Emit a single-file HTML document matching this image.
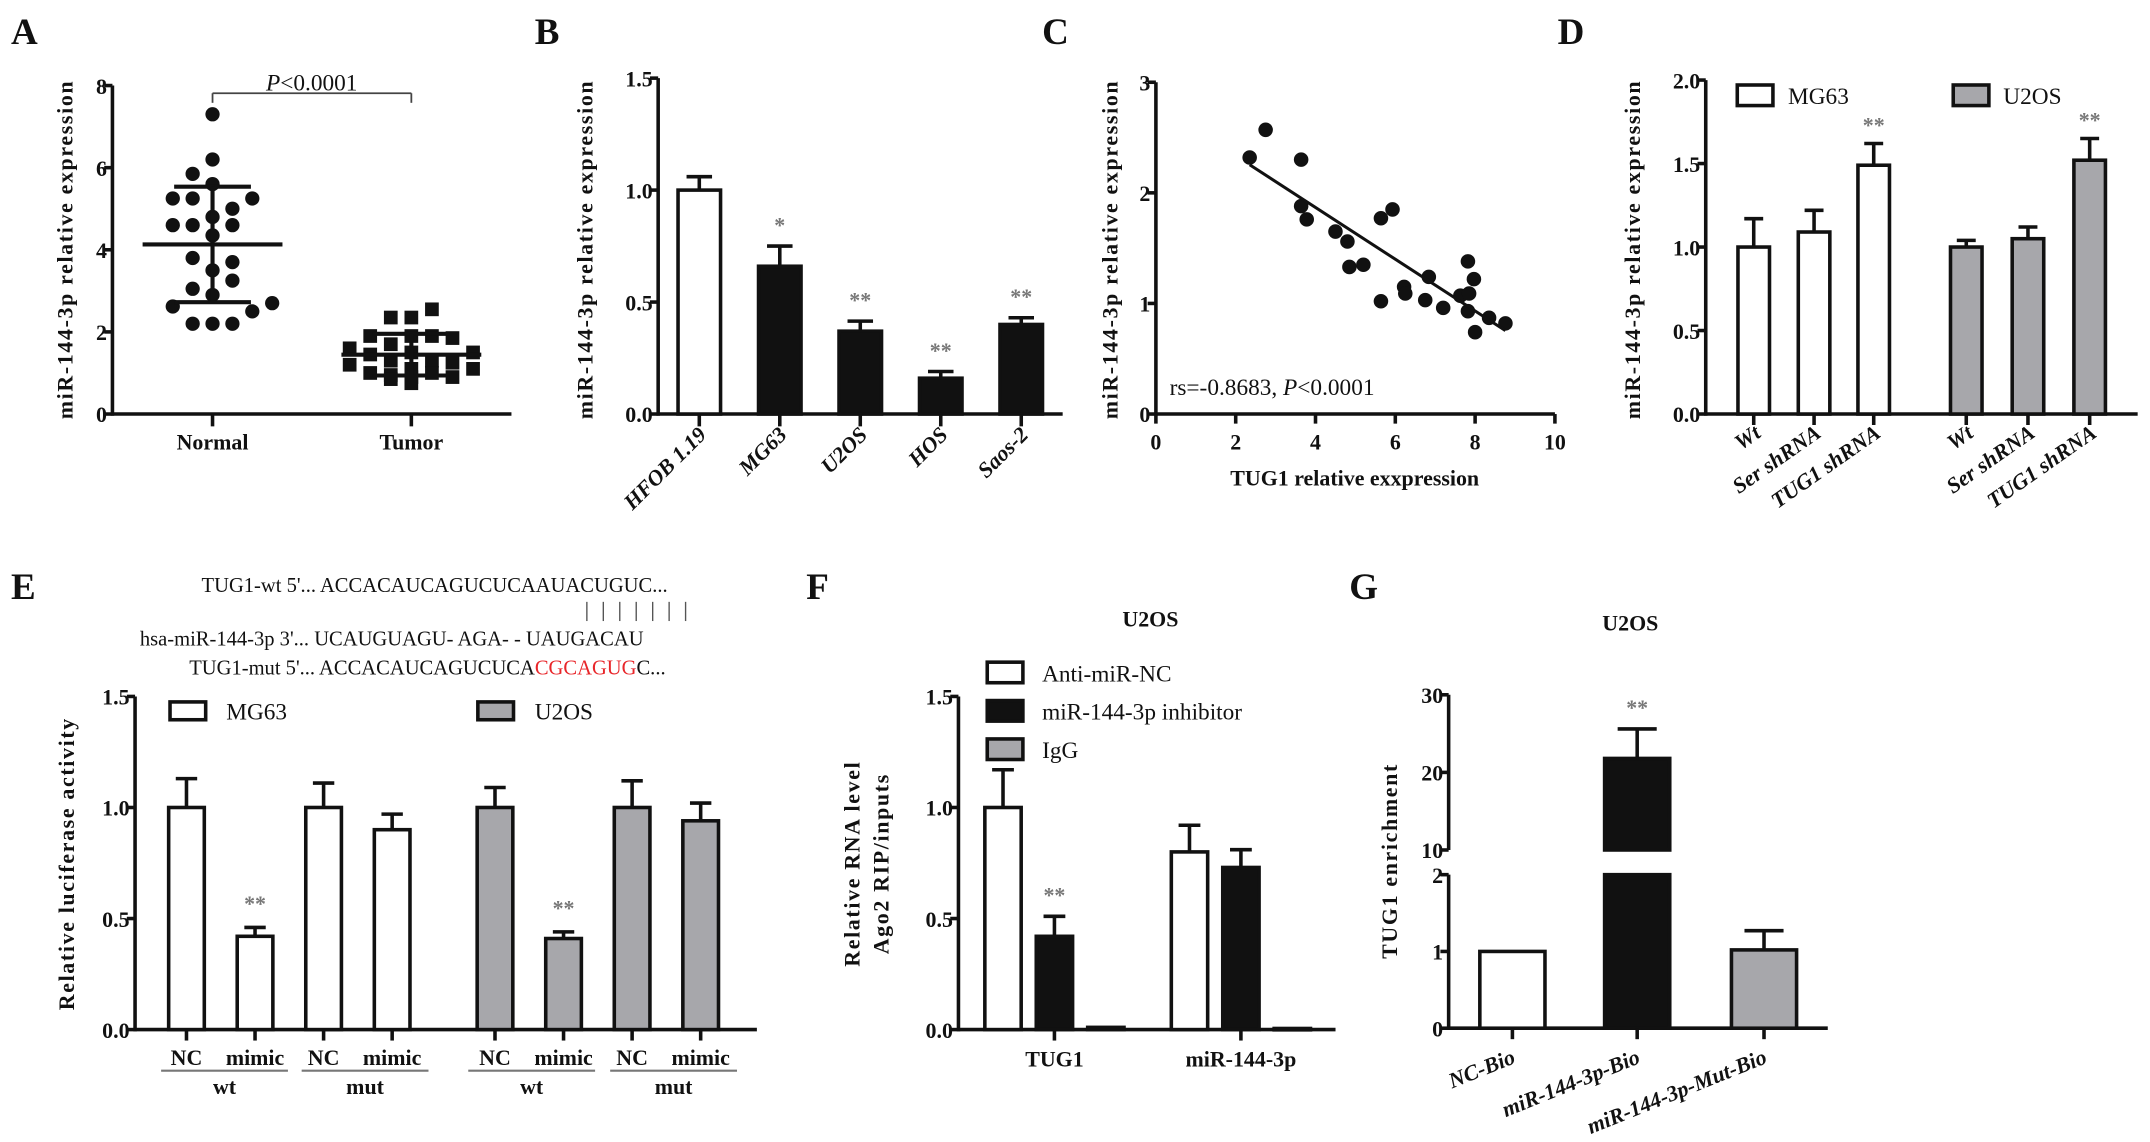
<!DOCTYPE html>
<html><head><meta charset="utf-8">
<style>
html,body{margin:0;padding:0;background:#fff;}
svg{display:block;}
text{font-family:"Liberation Serif",serif;fill:#111;}
.tk{font-size:16px;font-weight:bold;}
.ttl{font-size:16px;font-weight:bold;letter-spacing:1.2px;}
.pl{font-size:27px;font-weight:bold;}
.st{font-size:16px;font-weight:bold;fill:#777;}
.lg{font-size:17px;}
.seq{font-size:15px;}
</style></head>
<body>
<svg id="fig" width="2150" height="1142" viewBox="0 0 1568 833" preserveAspectRatio="none" xmlns="http://www.w3.org/2000/svg"></svg>
<script>
// ---------- data ----------
const aNormal=[7.3,6.2,5.85,5.6,5.25,5.25,5.25,5.0,4.8,4.6,4.6,4.6,4.35,3.8,3.7,3.5,3.25,3.05,2.9,2.62,2.7,2.5,2.2,2.2,2.2];
const aTumor=[2.55,2.35,2.35,1.9,1.9,1.9,1.85,1.7,1.6,1.5,1.5,1.45,1.3,1.3,1.25,1.2,1.1,1.1,1.0,1.0,0.95,0.9,0.9,0.85,0.75];
const aTicks=[0,2,4,6,8];
const bCats=['HFOB 1.19','MG63','U2OS','HOS','Saos-2'];
const bVals=[1.0,0.66,0.37,0.16,0.40];
const bErrs=[0.06,0.09,0.045,0.03,0.03];
const bStars=['','*','**','**','**'];
const bTicks=[0,0.5,1.0,1.5];
const cX=[2.35,2.75,3.64,3.64,3.78,4.5,4.8,4.85,5.2,5.64,5.93,5.64,6.22,6.25,6.75,6.84,7.2,7.63,7.82,7.85,7.97,7.82,8.0,8.35,8.76];
const cY=[2.32,2.57,2.3,1.88,1.76,1.65,1.56,1.33,1.35,1.77,1.85,1.02,1.15,1.09,1.03,1.24,0.96,1.07,1.38,1.09,1.22,0.93,0.74,0.87,0.82];
const cXTicks=[0,2,4,6,8,10];
const cYTicks=[0,1,2,3];
const dCats=['Wt','Ser shRNA','TUG1 shRNA','Wt','Ser shRNA','TUG1 shRNA'];
const dVals=[1.0,1.09,1.49,1.0,1.05,1.52];
const dErrs=[0.17,0.13,0.13,0.04,0.07,0.13];
const dStars=['','','**','','','**'];
const dTicks=[0,0.5,1.0,1.5,2.0];
const eCats=['NC','mimic','NC','mimic','NC','mimic','NC','mimic'];
const eVals=[1.0,0.42,1.0,0.9,1.0,0.41,1.0,0.94];
const eErrs=[0.13,0.04,0.11,0.07,0.09,0.03,0.12,0.08];
const eStars=['','**','','','','**','',''];
const eTicks=[0,0.5,1.0,1.5];
const fCats=['TUG1','miR-144-3p'];
const fVals=[[1.0,0.42,0.01],[0.8,0.73,0.005]];
const fErrs=[[0.17,0.09,0],[0.12,0.08,0]];
const fTicks=[0,0.5,1.0,1.5];
const gCats=['NC-Bio','miR-144-3p-Bio','miR-144-3p-Mut-Bio'];
const gVals=[1.0,21.8,1.02];
const gErrs=[0,3.8,0.25];
const gLowTicks=[0,1,2];
const gHighTicks=[10,20,30];

// ---------- helpers ----------
const NS='http://www.w3.org/2000/svg';
const svg=document.getElementById('fig');
function mk(tag,attrs,parent){const e=document.createElementNS(NS,tag);for(const k in attrs)e.setAttribute(k,attrs[k]);(parent||svg).appendChild(e);return e;}
function nm(e,n){return e;}
function txt(s,x,y,o,n){const e=mk('text',Object.assign({x:x,y:y},o||{}));e.textContent=s;nm(e,n);return e;}
function ln(x1,y1,x2,y2,n,sw,col){return nm(mk('line',{x1:x1,y1:y1,x2:x2,y2:y2,stroke:col||'#111','stroke-width':sw||2.6}),n);}
function lin(d0,d1,p0,p1){return v=>p0+(v-d0)*(p1-p0)/(d1-d0);}
function yAxis(x,ticks,sc,fmt,n){
  ln(x,sc(ticks[0])+1.3,x,sc(ticks[ticks.length-1]),n+'-y-axis');
  ticks.forEach(t=>{ln(x-6,sc(t),x,sc(t),n+'-y-tick');
    txt(fmt(t),x-4,sc(t)+6,{class:'tk','text-anchor':'end'},n+'-y-tick-label');});
}
function yTitle(s,x,y,n){txt(s,x,y,{class:'ttl','text-anchor':'middle',transform:'rotate(-90 '+x+' '+y+')'},n);}
function bar(cx,w,v,err,sc,fill,n){
  const y0=sc(0),y1=sc(v);
  if(err>0){ln(cx,y1,cx,sc(v+err),n+'-error-bar');ln(cx-w*0.3,sc(v+err),cx+w*0.3,sc(v+err),n+'-error-cap');}
  nm(mk('rect',{x:cx-w/2,y:y1,width:w,height:Math.max(y0-y1,1),fill:fill,stroke:'#111','stroke-width':2.6}),n);
}
const f1=t=>t.toFixed(1), f0=t=>String(t);

// ---------- panel letters ----------
[['A',8,32],['B',390,32],['C',760,32],['D',1136,32],['E',8,437],['F',588,437],['G',984,437]].forEach(p=>txt(p[0],p[1],p[2],{class:'pl'},'panel-label-'+p[0].toLowerCase()));

// ---------- A ----------
(function(){
  const sx=82, sc=lin(0,8,302,62.4);
  yAxis(sx,aTicks,sc,f0,'a');
  ln(sx,302,373,302,'a-x-axis');
  const xs=[155,300], labs=['Normal','Tumor'];
  xs.forEach((x,i)=>{ln(x,302,x,311,'a-x-tick');txt(labs[i],x,328,{class:'tk','text-anchor':'middle'},'a-x-label-'+labs[i].toLowerCase());});
  yTitle('miR-144-3p relative expression',53,182,'a-y-title');
  const nOff=[0,0,-1,0,-2,-1,2,1,0,-2,-1,1,0,-1,1,0,1,-1,0,-2,3,2,-1,0,1];
  aNormal.forEach((v,i)=>nm(mk('circle',{cx:xs[0]+nOff[i]*14.5,cy:sc(v),r:5.2,fill:'#111'}),'a-normal-point'));
  const tOff=[1,-1,0,-2,0,1,2,-1,-3,3,0,-2,-1,1,2,-3,0,3,-2,1,-1,0,2,-1,0];
  aTumor.forEach((v,i)=>nm(mk('rect',{x:xs[1]+tOff[i]*15-5,y:sc(v)-5,width:10,height:10,fill:'#111'}),'a-tumor-point'));
  [aNormal,aTumor].forEach((arr,k)=>{
    const m=arr.reduce((a,b)=>a+b,0)/arr.length;
    const sd=Math.sqrt(arr.reduce((a,b)=>a+(b-m)*(b-m),0)/(arr.length-1));
    const x=xs[k];
    ln(x-51,sc(m),x+51,sc(m),'a-mean-line',3);
    ln(x-28,sc(m+sd),x+28,sc(m+sd),'a-sd-line',3);
    ln(x-28,sc(m-sd),x+28,sc(m-sd),'a-sd-line',3);
    ln(x,sc(m+sd),x,sc(m-sd),'a-sd-whisker',3);
  });
  ln(155,68,300,68,'a-bracket',1.3,'#444');ln(155,68,155,75,'a-bracket',1.3,'#444');ln(300,68,300,75,'a-bracket',1.3,'#444');
  const p=txt('',194,66,{class:'lg','font-size':'16',fill:'#444'},'a-p-value');
  p.innerHTML='<tspan font-style="italic">P</tspan>&lt;0.0001';
})();

// ---------- B ----------
(function(){
  const sx=480, sc=lin(0,1.5,302,57);
  yAxis(sx,bTicks,sc,f1,'b');
  ln(sx,302,775,302,'b-x-axis');
  yTitle('miR-144-3p relative expression',432,182,'b-y-title');
  const c0=510, step=58.7;
  bCats.forEach((c,i)=>{
    const x=c0+i*step;
    bar(x,31,bVals[i],bErrs[i],sc,i===0?'#fff':'#111','b-bar-'+c.toLowerCase().replace(/[^a-z0-9]+/g,'-'));
    ln(x,302,x,311,'b-x-tick');
    if(bStars[i])txt(bStars[i],x,sc(bVals[i]+bErrs[i])-10,{class:'st','text-anchor':'middle'},'b-significance');
    txt(c,x+6,318,{class:'tk','font-style':'italic','text-anchor':'end',transform:'rotate(-45 '+(x+6)+' 318)'},'b-x-label');
  });
})();

// ---------- C ----------
(function(){
  const sx=lin(0,10,843,1134), sc=lin(0,3,302,60);
  yAxis(843,cYTicks,sc,f0,'c');
  ln(843,302,1134,302,'c-x-axis');
  cXTicks.forEach(t=>{ln(sx(t),302,sx(t),309,'c-x-tick');txt(String(t),sx(t),328,{class:'tk','text-anchor':'middle'},'c-x-tick-label');});
  txt('TUG1 relative exxpression',988,354,{class:'tk','font-size':'18','text-anchor':'middle'},'c-x-title');
  yTitle('miR-144-3p relative expression',815,182,'c-y-title');
  cX.forEach((x,i)=>nm(mk('circle',{cx:sx(x),cy:sc(cY[i]),r:5.3,fill:'#111'}),'c-point'));
  const n=cX.length, mx=cX.reduce((a,b)=>a+b,0)/n, my=cY.reduce((a,b)=>a+b,0)/n;
  let sxy=0,sxx=0;cX.forEach((x,i)=>{sxy+=(x-mx)*(cY[i]-my);sxx+=(x-mx)*(x-mx);});
  const k=sxy/sxx,b=my-k*mx, xa=Math.min(...cX), xb=Math.max(...cX);
  ln(sx(xa),sc(k*xa+b),sx(xb),sc(k*xb+b),'c-regression-line',2.2);
  const t=txt('',853,288,{class:'lg','font-size':'15.5',fill:'#444'},'c-correlation-text');
  t.innerHTML='rs=-0.8683, <tspan font-style="italic">P</tspan>&lt;0.0001';
})();

// ---------- D ----------
(function(){
  const sx=1244, sc=lin(0,2,302,58.4);
  yAxis(sx,dTicks,sc,f1,'d');
  ln(sx,302,1559,302,'d-x-axis');
  yTitle('miR-144-3p relative expression',1196,182,'d-y-title');
  const cs=[1279,1323,1366.5,1434,1479,1524];
  dCats.forEach((c,i)=>{
    const x=cs[i];
    bar(x,23,dVals[i],dErrs[i],sc,i<3?'#fff':'#a7a7ab','d-bar-'+(i<3?'mg63-':'u2os-')+c.toLowerCase().replace(/[^a-z0-9]+/g,'-'));
    ln(x,302,x,310,'d-x-tick');
    if(dStars[i])txt(dStars[i],x,sc(dVals[i]+dErrs[i])-8,{class:'st','text-anchor':'middle'},'d-significance');
    txt(c,x+6,318,{class:'tk','font-style':'italic','text-anchor':'end',transform:'rotate(-35 '+(x+6)+' 318)'},'d-x-label');
  });
  nm(mk('rect',{x:1267,y:62,width:26,height:15,fill:'#fff',stroke:'#111','stroke-width':2.6}),'d-legend-swatch-mg63');
  txt('MG63',1304,76,{class:'lg','font-size':'19'},'d-legend-mg63');
  nm(mk('rect',{x:1424.5,y:62,width:26,height:15,fill:'#a7a7ab',stroke:'#111','stroke-width':2.6}),'d-legend-swatch-u2os');
  txt('U2OS',1461,76,{class:'lg','font-size':'19'},'d-legend-u2os');
})();

// ---------- E ----------
(function(){
  const sx=98.5, sc=lin(0,1.5,751,508);
  txt("TUG1-wt 5'... ACCACAUCAGUCUCAAUACUGUC...",147,432,{class:'seq'},'e-seq-wt');
  for(let i=0;i<7;i++)ln(428+i*12,439,428+i*12,453,'e-seq-pairing',1,'#555');
  txt("hsa-miR-144-3p 3'... UCAUGUAGU- AGA- - UAUGACAU",102,471,{class:'seq'},'e-seq-mirna');
  const m=txt('',138,492,{class:'seq'},'e-seq-mut');
  m.innerHTML="TUG1-mut 5'... ACCACAUCAGUCUCA<tspan fill='#e8262a'>CGCAGUG</tspan>C...";
  yAxis(sx,eTicks,sc,f1,'e');
  ln(sx,751,552,751,'e-x-axis');
  yTitle('Relative luciferase activity',54,630,'e-y-title');
  const cs=[136,186,236,286,361,411,461,511];
  eCats.forEach((c,i)=>{
    const x=cs[i];
    bar(x,26,eVals[i],eErrs[i],sc,i<4?'#fff':'#a7a7ab','e-bar-'+c.toLowerCase());
    ln(x,751,x,759,'e-x-tick');
    if(eStars[i])txt(eStars[i],x,sc(eVals[i]+eErrs[i])-12,{class:'st','text-anchor':'middle'},'e-significance');
    txt(c,x,777,{class:'tk','font-size':'16','text-anchor':'middle'},'e-x-label');
  });
  [[117.5,210,'wt'],[220,312.5,'mut'],[341.5,434,'wt'],[445,537.5,'mut']].forEach(g=>{
    ln(g[0],781,g[1],781,'e-group-underline',1.6,'#777');
    txt(g[2],(g[0]+g[1])/2,798,{class:'tk','text-anchor':'middle'},'e-group-label-'+g[2]);
  });
  nm(mk('rect',{x:124,y:512,width:26,height:13,fill:'#fff',stroke:'#111','stroke-width':2.6}),'e-legend-swatch-mg63');
  txt('MG63',165,525,{class:'lg','font-size':'19'},'e-legend-mg63');
  nm(mk('rect',{x:348.5,y:512,width:26,height:13,fill:'#a7a7ab',stroke:'#111','stroke-width':2.6}),'e-legend-swatch-u2os');
  txt('U2OS',390,525,{class:'lg','font-size':'19'},'e-legend-u2os');
})();

// ---------- F ----------
(function(){
  const sx=699, sc=lin(0,1.5,751,508);
  txt('U2OS',839,457,{class:'tk','font-size':'21','text-anchor':'middle'},'f-title');
  yAxis(sx,fTicks,sc,f1,'f');
  ln(sx,751,974,751,'f-x-axis');
  yTitle('Relative RNA level',627,630,'f-y-title-line1');
  yTitle('Ago2 RIP/inputs',648,630,'f-y-title-line2');
  const fills=['#fff','#111','#a7a7ab'], names=['anti-mir-nc','inhibitor','igg'];
  const groupC=[769,905];
  fCats.forEach((c,g)=>{
    ln(groupC[g],751,groupC[g],759,'f-x-tick');
    txt(c,groupC[g],778,{class:'tk','text-anchor':'middle'},'f-x-label');
    for(let j=0;j<3;j++){
      const x=groupC[g]+(j-1)*37.5;
      bar(x,26.5,fVals[g][j],fErrs[g][j],sc,fills[j],'f-bar-'+c.toLowerCase()+'-'+names[j]);
    }
  });
  txt('**',769,sc(fVals[0][1]+fErrs[0][1])-10,{class:'st','text-anchor':'middle'},'f-significance');
  const lt=['Anti-miR-NC','miR-144-3p inhibitor','IgG'], ly=[483,511,539];
  lt.forEach((s,j)=>{
    nm(mk('rect',{x:720,y:ly[j],width:26,height:15,fill:fills[j],stroke:'#111','stroke-width':2.6}),'f-legend-swatch-'+names[j]);
    txt(s,760,ly[j]+14,{class:'lg','font-size':'18'},'f-legend-'+names[j]);
  });
})();

// ---------- G ----------
(function(){
  const sx=1056.5;
  const lo=lin(0,2,750,638), hi=lin(10,30,620,506.8);
  const sc=v=>v<=2?lo(v):hi(v);
  txt('U2OS',1189,460,{class:'tk','font-size':'21','text-anchor':'middle'},'g-title');
  ln(sx,751.3,sx,638,'g-y-axis-lower');
  ln(sx,620,sx,506.8,'g-y-axis-upper');
  gLowTicks.concat(gHighTicks).forEach(t=>{ln(sx-6,sc(t),sx,sc(t),'g-y-tick');txt(String(t),sx-4,sc(t)+6,{class:'tk','text-anchor':'end'},'g-y-tick-label');});
  ln(sx,750,1333,750,'g-x-axis');
  yTitle('TUG1 enrichment',1019,628,'g-y-title');
  const cs=[1103,1194,1286.5], fills=['#fff','#111','#a7a7ab'];
  gCats.forEach((c,i)=>{
    const x=cs[i], v=gVals[i], e=gErrs[i], w=47.5, id='g-bar-'+c.toLowerCase().replace(/[^a-z0-9]+/g,'-');
    if(v<=2){bar(x,w,v,e,sc,fills[i],id);}
    else{
      nm(mk('rect',{x:x-w/2,y:lo(2),width:w,height:lo(0)-lo(2),fill:fills[i],stroke:'#111','stroke-width':2.6}),id+'-lower');
      ln(x,hi(v),x,hi(v+e),id+'-error-bar');ln(x-w*0.3,hi(v+e),x+w*0.3,hi(v+e),id+'-error-cap');
      nm(mk('rect',{x:x-w/2,y:hi(v),width:w,height:hi(10)-hi(v),fill:fills[i],stroke:'#111','stroke-width':2.6}),id+'-upper');
      txt('**',x,hi(v+e)-10,{class:'st','text-anchor':'middle'},'g-significance');
    }
    ln(x,750,x,758,'g-x-tick');
    txt(c,x+3,775,{class:'tk','font-style':'italic','text-anchor':'end',transform:'rotate(-22 '+(x+3)+' 775)'},'g-x-label');
  });
})();
</script>
</body></html>
